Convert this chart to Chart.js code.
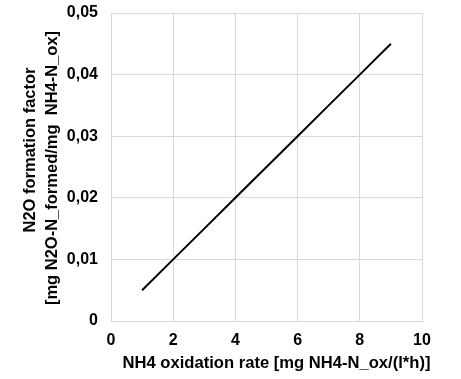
<!DOCTYPE html>
<html><head><meta charset="utf-8">
<script src="https://cdn.jsdelivr.net/npm/chart.js@4/dist/chart.umd.min.js"></script>
<style>html,body{margin:0;padding:0;background:#fff}#wrap{width:461px;height:379px}</style>
</head><body><div id="wrap"><canvas id="c" width="461" height="379"></canvas></div>
<script>
const xValues = [1, 2, 3, 4, 5, 6, 7, 8, 9];
const yValues = [0.005, 0.010, 0.015, 0.020, 0.025, 0.030, 0.035, 0.040, 0.045];
const xTicks = [0, 2, 4, 6, 8, 10];
const yTicks = [0, 0.01, 0.02, 0.03, 0.04, 0.05];
const xTitle = 'NH4 oxidation rate [mg NH4-N_ox/(l*h)]';
const yTitle = ['N2O formation factor', '[mg N2O-N_formed/mg  NH4-N_ox]'];

const FAM = '"Liberation Sans", Arial, sans-serif';
Chart.defaults.font.family = FAM;
Chart.defaults.font.weight = 'bold';
Chart.defaults.font.size = 16;
Chart.defaults.color = '#000';
const fmt = v => v === 0 ? '0' : v.toFixed(2).replace('.', ',');

// Axis titles drawn in bold (Chart.js drops the weight on scale titles here)
const axisTitles = {
  id: 'axisTitles',
  afterDraw(chart) {
    const {ctx, chartArea: ca} = chart;
    ctx.save();
    ctx.fillStyle = '#000';
    ctx.textBaseline = 'middle';
    ctx.textAlign = 'center';
    ctx.font = 'bold 16.6px ' + FAM;
    ctx.fillText(xTitle, (ca.left + ca.right) / 2 + 10, 363);
    ctx.font = 'bold 16.5px ' + FAM;
    const midY = (ca.top + ca.bottom) / 2;
    const lineX = [ca.left - 81, ca.left - 59];
    const lineShift = [-17, 1];
    yTitle.forEach((t, i) => {
      ctx.save();
      ctx.translate(lineX[i], midY + lineShift[i]);
      ctx.rotate(-Math.PI / 2);
      ctx.fillText(t, 0, 0);
      ctx.restore();
    });
    ctx.restore();
  }
};

new Chart(document.getElementById('c'), {
  type: 'scatter',
  data: {datasets: [{
    data: xValues.map((x, i) => ({x, y: yValues[i]})),
    showLine: true, borderColor: '#000', borderWidth: 2, pointRadius: 0, fill: false
  }]},
  plugins: [axisTitles],
  options: {
    responsive: false, animation: false, devicePixelRatio: 1,
    layout: {padding: {left: 19, right: 39, top: 13, bottom: 0}},
    plugins: {legend: {display: false}, tooltip: {enabled: false}},
    scales: {
      x: {
        type: 'linear', min: 0, max: 10,
        afterBuildTicks: s => { s.ticks = xTicks.map(v => ({value: v})); },
        afterFit: s => { s.height = 58; s.paddingLeft = 0; s.paddingRight = 0; },
        ticks: {font: {family: FAM, weight: 'bold', size: 16}, color: '#000', padding: 10, callback: v => String(v), maxRotation: 0},
        grid: {color: '#d9d9d9', lineWidth: 1, drawTicks: false},
        border: {color: '#d9d9d9'},
        title: {display: false, text: xTitle}
      },
      y: {
        type: 'linear', min: 0, max: 0.05,
        afterBuildTicks: s => { s.ticks = yTicks.map(v => ({value: v})); },
        afterFit: s => { s.width = 92; s.paddingTop = 0; s.paddingBottom = 0; },
        ticks: {font: {family: FAM, weight: 'bold', size: 16}, color: '#000', padding: 13, callback: v => fmt(v)},
        grid: {color: '#d9d9d9', lineWidth: 1, drawTicks: false},
        border: {color: '#d9d9d9'},
        title: {display: false, text: yTitle}
      }
    }
  }
});
</script></body></html>
